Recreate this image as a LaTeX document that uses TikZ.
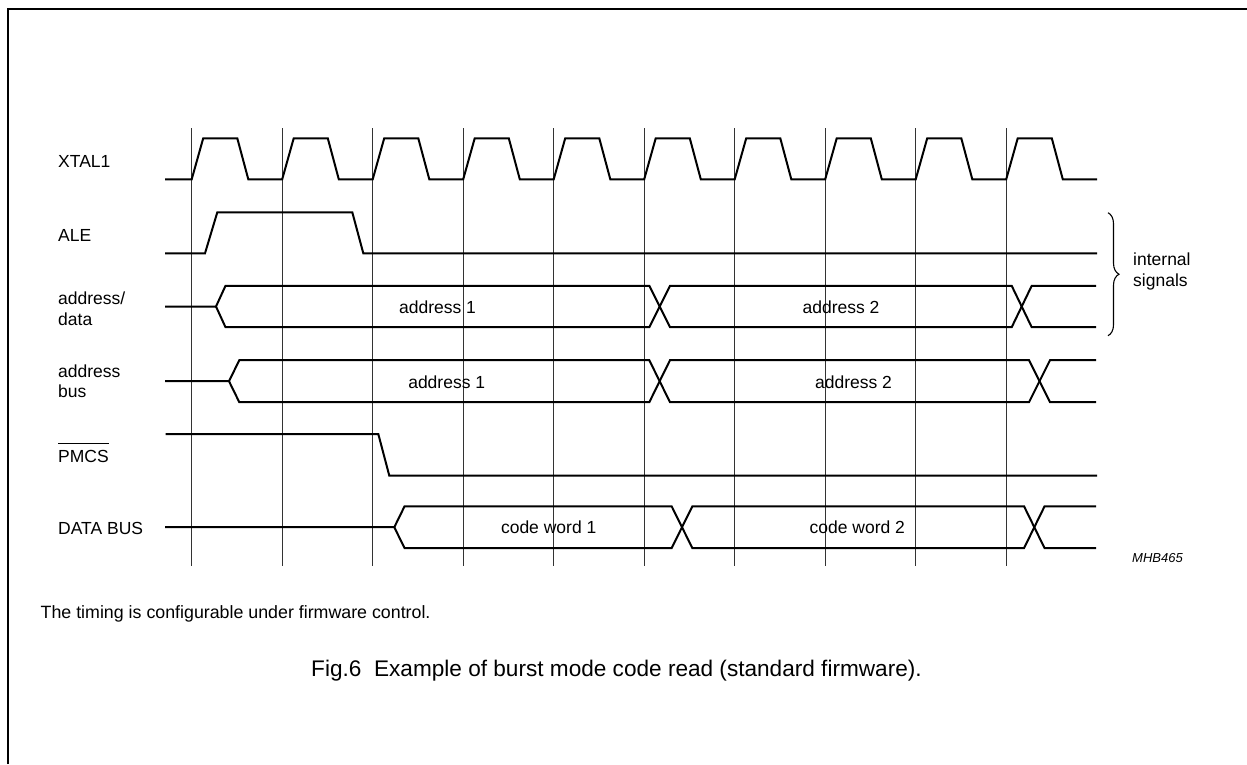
\documentclass[tikz,border=0pt]{standalone}
\usepackage{fontspec}
\setmainfont{Liberation Sans}
\usetikzlibrary{decorations.pathreplacing}
\tikzset{
	wave/.style={
		line width=2pt,
		line join=miter,
	},
	gridline/.style={
		line width=1pt,
		black!80,
	},
	signame/.style={
		anchor=base west,
		inner sep=0pt,
		align=left,
		font=\fontsize{17.5}{20.5}\selectfont,
	},
	busval/.style={
		anchor=base,
		inner sep=0pt,
		font=\fontsize{17.5}{21}\selectfont,
	},
	groupbrace/.style={
		decorate,
		decoration={brace, amplitude=11pt},
		line width=1.1pt,
	},
}

\begin{document}
\begin{tikzpicture}[x=1pt, y=-1pt]
		
		\useasboundingbox (0,0) rectangle (1247,764);
		\draw [line width=2pt] (7.5,764) -- (7.5,8.5) -- (1247,8.5);
		
		\foreach \k in {0,...,9}
			\draw [gridline] (191.7+90.5*\k,128.3) -- (191.7+90.5*\k,566);
		
		\node [signame] (xtal) at (58,167.3) {XTAL1};
		\node [signame] (ale) at (58,241.7) {ALE};
		\node [signame] (addrdata) at (58,325) {address/\\data};
		\node [signame] (addrbus) at (58,397.7) {address\\bus};
		\node [signame] (pmcs) at (58,462.3) {PMCS};
		\node [signame] (databus) at (58,534) {DATA BUS};
		\node [signame, font=\fontsize{17.5}{21.7}\selectfont] (internal) at (1133,286.7) {internal\\signals};
		\node [anchor=base west, inner sep=0pt, font=\fontsize{13}{15}\selectfont\itshape] (mhb) at (1132,562.7) {MHB465};
		
		\node [busval] (ad1) at (437.5,313) {address 1};
		\node [busval] (ad2) at (841,313) {address 2};
		\node [busval] (ab1) at (446.7,388) {address 1};
		\node [busval] (ab2) at (853.5,388) {address 2};
		\node [busval] (cw1) at (548.7,533.5) {code word 1};
		\node [busval] (cw2) at (857.3,533.5) {code word 2};
		
		\node [signame, font=\fontsize{17.8}{21}\selectfont] (note) at (40.5,618) {The timing is configurable under firmware control.};
		\node [anchor=base west, inner sep=0pt, font=\fontsize{22.6}{27}\selectfont] (caption) at (311,676) {Fig.6\hspace{0.56em}Example of burst mode code read (standard firmware).};
		
		\draw [line width=0.9pt] ([yshift=6.5pt]pmcs.north west) -- ([yshift=6.5pt]pmcs.north east);
		
		\draw [wave] (165,179.3) foreach \k in {0,...,9} { -- (191.7+90.5*\k,179.3) -- ++(11.5,-41) -- ++(34.1,0) -- ++(11,41) } -- (1097,179.3);
		\draw [wave] (165,253.3) -- (205,253.3) -- (217.3,212.3) -- (352.3,212.3) -- (363.3,253.3) -- (1097,253.3);
		
		\draw [wave] (165,306.5) -- (216,306.5) -- (225.5,285.8) -- (649.3,285.8) -- (670,327.2) -- (1011.7,327.2) -- (1031.7,285.8) -- (1096,285.8);
		\draw [wave] (216,306.5) -- (225.5,327.2) -- (649.3,327.2) -- (670,285.8) -- (1011.7,285.8) -- (1031.7,327.2) -- (1096,327.2);
		
		\draw [wave] (165,381.2) -- (229,381.2) -- (239.3,360.2) -- (649.3,360.2) -- (670,402.2) -- (1029,402.2) -- (1050,360.2) -- (1096,360.2);
		\draw [wave] (229,381.2) -- (239.3,402.2) -- (649.3,402.2) -- (670,360.2) -- (1029,360.2) -- (1050,402.2) -- (1096,402.2);
		
		\draw [wave] (165.7,434) -- (378.3,434) -- (389.3,475.7) -- (1097,475.7);
		
		\draw [wave] (165,527.2) -- (394.3,527.2) -- (404.5,506.4) -- (671.7,506.4) -- (692.3,548) -- (1024.1,548) -- (1044.5,506.4) -- (1096,506.4);
		\draw [wave] (394.3,527.2) -- (404.5,548) -- (671.7,548) -- (692.3,506.4) -- (1024.1,506.4) -- (1044.5,548) -- (1096,548);
		
		\draw [groupbrace] (1108,212.7) -- (1108,335.7);
	\end{tikzpicture}
\end{document}
